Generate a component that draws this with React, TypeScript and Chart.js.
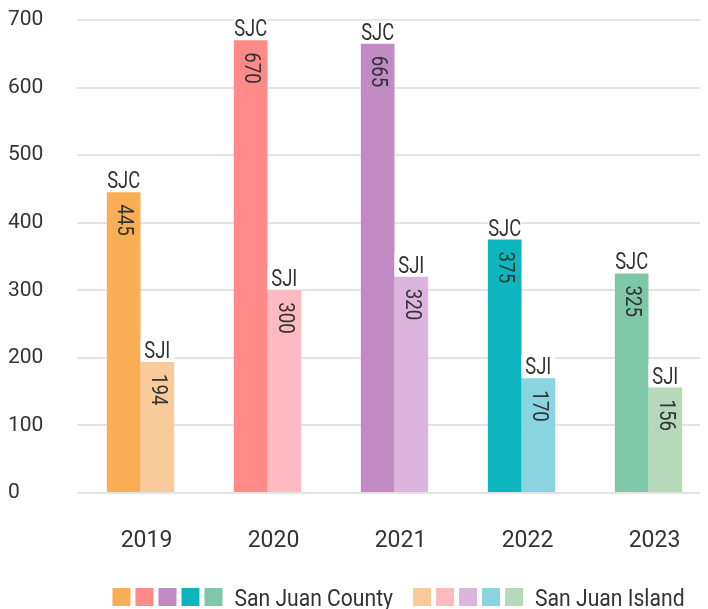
import React, { useEffect, useRef } from 'react';
import { Chart, registerables } from 'chart.js';

Chart.register(...registerables);

const years = ['2019', '2020', '2021', '2022', '2023'];
const countyValues = [445, 670, 665, 375, 325];
const islandValues = [194, 300, 320, 170, 156];
const countyColors = ['#F9AE55', '#FF8A87', '#C18AC3', '#0DB6BE', '#7EC8A9'];
const islandColors = ['#F9CB9A', '#FFB9C0', '#DCB5DF', '#8AD4E2', '#B6DAB9'];
const seriesNames = ['San Juan County', 'San Juan Island'];
const seriesShort = ['SJC', 'SJI'];
const yMin = 0;
const yMax = 700;
const yStep = 100;

const FONT = 'Roboto, "Liberation Sans", sans-serif';
const TEXT = '#333333';

const barLabelPlugin = {
  id: 'barLabels',
  afterDatasetsDraw(chart: any) {
    const ctx = chart.ctx;
    chart.data.datasets.forEach((ds: any, di: number) => {
      const meta = chart.getDatasetMeta(di);
      meta.data.forEach((bar: any, i: number) => {
        const { x, y, width } = bar.getProps(['x', 'y', 'width'], true);
        const left = x - width / 2;
        ctx.save();
        ctx.fillStyle = '#ffffff';
        ctx.fillRect(left, y - 23, width, 22);
        ctx.restore();

        ctx.save();
        ctx.translate(x, y - 4);
        ctx.scale(0.8, 1);
        ctx.font = `23px ${FONT}`;
        ctx.fillStyle = TEXT;
        ctx.textAlign = 'center';
        ctx.textBaseline = 'alphabetic';
        ctx.fillText(seriesShort[di], 0, 0);
        ctx.restore();

        ctx.save();
        ctx.translate(x, y + 12);
        ctx.rotate(Math.PI / 2);
        ctx.scale(0.85, 1);
        ctx.font = `22px ${FONT}`;
        ctx.fillStyle = TEXT;
        ctx.textAlign = 'left';
        ctx.textBaseline = 'middle';
        ctx.fillText(String(ds.data[i]), 0, 0);
        ctx.restore();
      });
    });
  },
};

const legendPlugin = {
  id: 'multiLegend',
  afterDraw(chart: any) {
    const ctx = chart.ctx;
    const area = chart.chartArea;
    const boxSize = 18;
    const boxStep = 23;
    const textGap = 12;
    const groupGap = 20;
    const sx = 0.88;
    const groups = [countyColors, islandColors];
    ctx.save();
    ctx.font = `24px ${FONT}`;
    const widths = seriesNames.map((n) => ctx.measureText(n).width * sx);
    const groupWidths = groups.map(
      (cols, gi) => cols.length * boxStep - (boxStep - boxSize) + textGap + widths[gi]
    );
    const total = groupWidths.reduce((a, b) => a + b, 0) + groupGap * (groups.length - 1);
    let cx = (area.left + area.right) / 2 - total / 2 + 4;
    const boxTop = chart.height - 21;
    groups.forEach((cols, gi) => {
      cols.forEach((c, ci) => {
        ctx.fillStyle = c;
        ctx.fillRect(cx + ci * boxStep, boxTop, boxSize, boxSize);
      });
      const tx = cx + cols.length * boxStep - (boxStep - boxSize) + textGap;
      ctx.save();
      ctx.translate(tx, boxTop + boxSize);
      ctx.scale(sx, 1);
      ctx.fillStyle = TEXT;
      ctx.textAlign = 'left';
      ctx.textBaseline = 'alphabetic';
      ctx.fillText(seriesNames[gi], 0, 0);
      ctx.restore();
      cx += groupWidths[gi] + groupGap;
    });
    ctx.restore();
  },
};

export default function App() {
  const canvasRef = useRef<HTMLCanvasElement | null>(null);

  useEffect(() => {
    document.body.style.overflow = 'hidden';
    const canvas = canvasRef.current;
    if (!canvas) return;
    const chart = new Chart(canvas, {
      type: 'bar',
      data: {
        labels: years,
        datasets: [
          {
            label: seriesNames[0],
            data: countyValues,
            backgroundColor: countyColors,
            borderWidth: 0,
          },
          {
            label: seriesNames[1],
            data: islandValues,
            backgroundColor: islandColors,
            borderWidth: 0,
          },
        ],
      },
      options: {
        animation: false,
        responsive: true,
        maintainAspectRatio: false,
        devicePixelRatio: 1,
        layout: { padding: { top: 12, bottom: 56, left: 0, right: 0 } },
        datasets: {
          bar: { categoryPercentage: 0.53, barPercentage: 1.0 },
        },
        plugins: {
          legend: { display: false },
          tooltip: { enabled: false },
          title: { display: false },
        },
        scales: {
          x: {
            grid: { display: false, drawTicks: false },
            border: { display: false },
            ticks: {
              color: TEXT,
              font: { family: FONT, size: 23 },
              padding: 34,
              labelOffset: 6,
              maxRotation: 0,
            },
            afterFit(scale: any) {
              scale.height = 60;
              scale.paddingLeft = 0;
              scale.paddingRight = 0;
            },
          },
          y: {
            min: yMin,
            max: yMax,
            grid: { color: '#E4E4E4', lineWidth: 2, drawTicks: false },
            border: { display: false },
            ticks: {
              stepSize: yStep,
              color: TEXT,
              font: { family: FONT, size: 21 },
              crossAlign: 'far',
            },
            afterFit(scale: any) {
              scale.width = 69;
              scale.paddingTop = 0;
              scale.paddingBottom = 0;
            },
          },
        },
      },
      plugins: [barLabelPlugin, legendPlugin],
    });
    return () => {
      chart.destroy();
    };
  }, []);

  return (
    <div style={{ position: 'relative', width: '704px', height: '601px' }}>
      <canvas ref={canvasRef} />
    </div>
  );
}
